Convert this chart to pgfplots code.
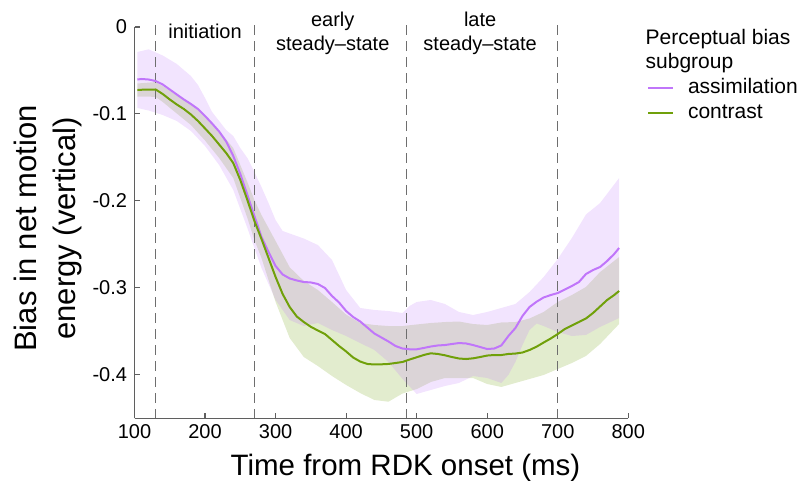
\documentclass[border=0pt]{standalone}
\usepackage{pgfplots}
\pgfplotsset{compat=1.18}
\usepackage{pgfplotstable}
\usepgfplotslibrary{fillbetween}
\usepackage{fontspec}
\setmainfont{Liberation Sans}
\definecolor{purp}{RGB}{192,118,250}
\definecolor{grn}{RGB}{112,160,10}
\definecolor{axgray}{RGB}{95,95,95}
\definecolor{dashgray}{RGB}{110,110,110}

\pgfplotstableread{
x y
104 -0.0605
110 -0.0599
120 -0.0605
130 -0.0622
140 -0.0662
150 -0.0720
160 -0.0778
170 -0.0835
180 -0.0887
190 -0.0945
200 -0.1025
210 -0.1112
220 -0.1204
230 -0.1319
240 -0.1486
250 -0.1694
260 -0.1935
270 -0.2177
280 -0.2419
290 -0.2592
300 -0.2753
310 -0.2851
320 -0.2897
330 -0.2920
340 -0.2938
350 -0.2943
360 -0.2961
370 -0.3007
380 -0.3099
390 -0.3174
400 -0.3272
410 -0.3341
420 -0.3393
430 -0.3462
440 -0.3531
450 -0.3577
460 -0.3623
470 -0.3675
480 -0.3704
490 -0.3713
500 -0.3713
510 -0.3698
520 -0.3681
530 -0.3669
540 -0.3664
550 -0.3652
560 -0.3641
570 -0.3646
580 -0.3664
590 -0.3687
600 -0.3710
610 -0.3704
620 -0.3669
630 -0.3560
640 -0.3468
650 -0.3329
660 -0.3226
670 -0.3165
680 -0.3116
690 -0.3088
700 -0.3065
710 -0.3024
720 -0.2984
730 -0.2938
740 -0.2846
750 -0.2800
760 -0.2765
770 -0.2696
780 -0.2615
787 -0.2546
}\assimmean

\pgfplotstableread{
x y
104 -0.0288
120 -0.0257
140 -0.0328
160 -0.0426
180 -0.0565
190 -0.0668
200 -0.0818
210 -0.0979
220 -0.1083
230 -0.1187
240 -0.1256
250 -0.1394
260 -0.1509
270 -0.1671
280 -0.1843
290 -0.2028
300 -0.2224
310 -0.2350
320 -0.2379
340 -0.2437
360 -0.2512
380 -0.2684
400 -0.3030
420 -0.3237
440 -0.3260
460 -0.3272
480 -0.3295
490 -0.3214
500 -0.3168
520 -0.3145
540 -0.3191
560 -0.3283
580 -0.3318
600 -0.3283
620 -0.3237
640 -0.3191
660 -0.3053
680 -0.2880
700 -0.2673
720 -0.2431
740 -0.2160
760 -0.2028
787 -0.1740
}\assimup

\pgfplotstableread{
x y
104 -0.0933
120 -0.0962
140 -0.1014
160 -0.1083
180 -0.1198
200 -0.1371
220 -0.1590
240 -0.1878
260 -0.2316
280 -0.2776
300 -0.3145
320 -0.3376
340 -0.3445
360 -0.3410
380 -0.3491
400 -0.3560
420 -0.3641
440 -0.3721
460 -0.3859
480 -0.4055
500 -0.4228
520 -0.4182
540 -0.4136
560 -0.4101
580 -0.4021
600 -0.4044
620 -0.4101
630 -0.4009
640 -0.3859
650 -0.3664
660 -0.3491
670 -0.3416
680 -0.3445
700 -0.3514
720 -0.3560
740 -0.3548
760 -0.3456
787 -0.3353
}\assimlo

\pgfplotstableread{
x y
104 -0.0726
110 -0.0723
120 -0.0721
130 -0.0720
140 -0.0772
150 -0.0835
160 -0.0893
170 -0.0945
180 -0.1008
190 -0.1083
200 -0.1169
210 -0.1256
220 -0.1354
230 -0.1452
240 -0.1567
250 -0.1763
260 -0.1993
270 -0.2235
280 -0.2442
290 -0.2661
300 -0.2880
310 -0.3076
320 -0.3226
330 -0.3335
340 -0.3399
350 -0.3454
360 -0.3497
370 -0.3537
380 -0.3606
390 -0.3675
400 -0.3738
410 -0.3808
420 -0.3854
430 -0.3882
440 -0.3888
450 -0.3886
460 -0.3882
470 -0.3871
480 -0.3859
490 -0.3831
500 -0.3805
510 -0.3779
520 -0.3759
530 -0.3767
540 -0.3782
550 -0.3802
560 -0.3819
570 -0.3825
580 -0.3817
590 -0.3802
600 -0.3785
610 -0.3779
620 -0.3779
630 -0.3767
640 -0.3762
650 -0.3750
660 -0.3721
670 -0.3683
680 -0.3635
690 -0.3589
700 -0.3537
710 -0.3479
720 -0.3439
730 -0.3399
740 -0.3358
750 -0.3295
760 -0.3220
770 -0.3145
780 -0.3088
787 -0.3041
}\contmean

\pgfplotstableread{
x y
104 -0.0651
120 -0.0641
130 -0.0634
140 -0.0680
160 -0.0789
180 -0.0887
200 -0.1031
220 -0.1198
240 -0.1394
260 -0.1786
270 -0.1993
280 -0.2166
300 -0.2465
320 -0.2768
340 -0.2926
360 -0.3030
380 -0.3168
400 -0.3313
420 -0.3410
440 -0.3433
460 -0.3445
480 -0.3445
500 -0.3427
520 -0.3410
540 -0.3399
560 -0.3393
580 -0.3422
600 -0.3433
620 -0.3404
640 -0.3399
660 -0.3358
680 -0.3283
700 -0.3168
720 -0.3088
740 -0.2995
760 -0.2823
787 -0.2650
}\contup

\pgfplotstableread{
x y
104 -0.0801
120 -0.0802
130 -0.0806
140 -0.0864
160 -0.0997
180 -0.1129
200 -0.1308
220 -0.1509
240 -0.1740
260 -0.2200
270 -0.2454
280 -0.2661
300 -0.3168
320 -0.3583
340 -0.3802
360 -0.3906
380 -0.4021
400 -0.4124
420 -0.4217
440 -0.4297
460 -0.4317
480 -0.4222
500 -0.4171
520 -0.4090
540 -0.4044
560 -0.4044
580 -0.4044
600 -0.4113
620 -0.4147
640 -0.4101
660 -0.4055
680 -0.4009
700 -0.3940
720 -0.3871
740 -0.3790
760 -0.3652
787 -0.3422
}\contlo

\begin{document}
\begin{tikzpicture}
\begin{axis}[
  scale only axis,
  width=493.8pt, height=391.3pt,
  xmin=100, xmax=800, ymin=-0.4508, ymax=0,
  axis x line=bottom, axis y line=left,
  axis line style={-, draw=axgray, line width=1.2pt},
  tick align=inside,
  major tick length=5.5pt,
  tick style={axgray, line width=1.2pt},
  xtick={100,200,300,400,500,600,700,800},
  ytick={-0.4,-0.3,-0.2,-0.1,0},
  yticklabels={-0.4,-0.3,-0.2,-0.1,0},
  /pgf/number format/assume math mode=true,
  tick label style={font=\fontsize{20}{24}\selectfont, text=black},
  xticklabel style={yshift=-3pt},
  yticklabel style={xshift=-4pt},
  clip=false,
  xlabel={Time from RDK onset (ms)},
  xlabel style={font=\fontsize{29.5}{35}\selectfont, inner sep=0pt, at={(axis description cs:0.5488,-0.1449)}, anchor=base},
  ylabel={Bias in net motion\\energy (vertical)},
  ylabel style={align=center, font=\fontsize{31}{39.2}\selectfont, inner sep=0pt, at={(axis description cs:-0.1746,0.485)}, anchor=center},
  legend style={
    at={(axis description cs:1.0379,0.8697)}, anchor=north west,
    draw=none, fill=none, inner sep=0pt, outer sep=0pt,
    row sep=4pt,
    nodes={inner sep=0pt, text height=16pt, text depth=5pt},
    font=\fontsize{21}{25}\selectfont,
    /tikz/every odd column/.append style={column sep=14pt},
  },
  legend cell align=left,
  legend image code/.code={\draw[#1] (0pt,0pt) -- (25pt,0pt);},
]
% bands
\addplot[name path=cu, draw=none, forget plot] table[x=x,y=y] {\contup};
\addplot[name path=cl, draw=none, forget plot] table[x=x,y=y] {\contlo};
\addplot[fill=grn, fill opacity=0.2, draw=none, forget plot] fill between[of=cu and cl];
\addplot[name path=au, draw=none, forget plot] table[x=x,y=y] {\assimup};
\addplot[name path=al, draw=none, forget plot] table[x=x,y=y] {\assimlo};
\addplot[fill=purp, fill opacity=0.2, draw=none, forget plot] fill between[of=au and al];
% epoch boundaries
\addplot[dashgray, line width=1pt, dash pattern=on 10pt off 6pt, forget plot] coordinates {(130,0.0023) (130,-0.4508)};
\addplot[dashgray, line width=1pt, dash pattern=on 10pt off 6pt, forget plot] coordinates {(270,0.0023) (270,-0.4508)};
\addplot[dashgray, line width=1pt, dash pattern=on 10pt off 6pt, forget plot] coordinates {(485,0.0023) (485,-0.4508)};
\addplot[dashgray, line width=1pt, dash pattern=on 10pt off 6pt, forget plot] coordinates {(700,0.0023) (700,-0.4508)};
% means
\addplot[purp, line width=2pt] table[x=x,y=y] {\assimmean};
\addlegendentry{assimilation}
\addplot[grn, line width=2pt] table[x=x,y=y] {\contmean};
\addlegendentry{contrast}
% epoch labels
\node[anchor=base, font=\fontsize{20}{24}\selectfont] at (axis cs:200,-0.0130) {initiation};
\node[anchor=base, font=\fontsize{20}{24}\selectfont] at (axis cs:381,0.0006) {early};
\node[anchor=base, font=\fontsize{20}{24}\selectfont] at (axis cs:381,-0.0276) {steady–state};
\node[anchor=base, font=\fontsize{20}{24}\selectfont] at (axis cs:590,0.0006) {late};
\node[anchor=base, font=\fontsize{20}{24}\selectfont] at (axis cs:590,-0.0276) {steady–state};
% legend title
\node[anchor=base west, inner sep=0pt, font=\fontsize{21}{25}\selectfont] at (axis description cs:1.0348,0.9553) {Perceptual bias};
\node[anchor=base west, inner sep=0pt, font=\fontsize{21}{25}\selectfont] at (axis description cs:1.0348,0.8927) {subgroup};
\end{axis}
\pgfresetboundingbox
\path[use as bounding box] (-134.5pt,-61.7pt) rectangle (663.5pt,418.3pt);
\end{tikzpicture}
\end{document}
